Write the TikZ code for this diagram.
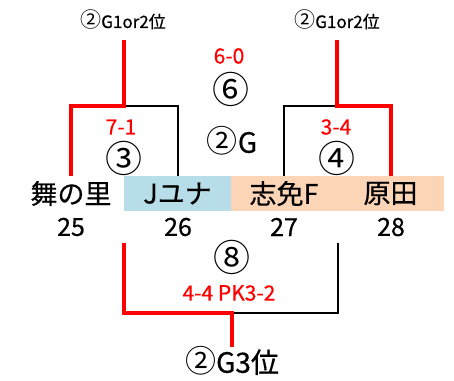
\documentclass[tikz,border=0pt]{standalone}
\usepackage{fontspec}
\setmainfont{Noto Sans CJK JP}[UprightFeatures={FakeBold=0.5}]
\newfontfamily\marufont{Noto Sans CJK JP}
\usepackage{xcolor}
\usetikzlibrary{positioning}

\definecolor{bandblue}{RGB}{182,221,232}
\definecolor{bandorange}{RGB}{251,213,181}

\newcommand\maru[2]{{\marufont\fontsize{#1}{#1}\selectfont #2}}

\begin{document}
\begin{tikzpicture}[x=1pt, y=-1pt,
    team/.style={minimum width=106.5pt, minimum height=35pt, inner sep=0pt, font=\fontsize{27}{27}\selectfont},
    num/.style={font=\fontsize{25}{25}\selectfont},
    match/.style={font=\marufont\fontsize{37}{37}\selectfont},
    label/.style={font=\fontsize{28}{28}\selectfont},
    score/.style={text=red, font=\fontsize{21}{21}\selectfont},
    goal/.style={font=\fontsize{17}{17}\selectfont},
    win/.style={draw=red, line width=4pt},
    lose/.style={draw=black, line width=2pt}]

    \useasboundingbox (0,0) rectangle (454,380);

    % teams
    \node[team] (t25) at (71,193.5) {舞の里};
    \node[team, fill=bandblue] (t26) at (177.5,193.5) {Jユナ};
    \node[team, fill=bandorange] (t27) at (284,193.5) {志免F};
    \node[team, fill=bandorange] (t28) at (390.5,193.5) {原田};

    \node[num] (n25) at (71,227) {25};
    \node[num] (n26) at (178,227) {26};
    \node[num] (n27) at (284,227) {27};
    \node[num] (n28) at (391,227) {28};

    % labels
    \node[goal] (g1l) at (123,20) {\maru{21}{②}G1or2位};
    \node[goal] (g1r) at (337,20) {\maru{21}{②}G1or2位};
    \node[score] (s6) at (229,56) {6-0};
    \node[match] (m6) at (231,89) {⑥};
    \node[label] (grp) at (232,141) {\maru{31}{②}G};
    \node[score] (s3) at (121,127) {7-1};
    \node[match] (m3) at (124,158) {③};
    \node[score] (s4) at (336,127) {3-4};
    \node[match] (m4) at (337,158) {④};
    \node[match] (m8) at (232,257) {⑧};
    \node[score] (s8) at (229,293) {4-4 PK3-2};
    \node[label] (g3) at (232,361) {\maru{31}{②}G3位};

    \coordinate (c3) at (124,106);
    \coordinate (c4) at (337,106);
    \coordinate (u3) at (124,40);
    \coordinate (u4) at (337,40);
    \coordinate (b8l) at (124,243);
    \coordinate (b8r) at (338,243);
    \coordinate (c8) at (232,313);
    \coordinate (d8) at (232,347);

    % brackets
    \draw[lose] (c3) -| (t26.north);
    \draw[win] (t25.north) |- (c3) -- (u3);
    \draw[lose] (c4) -| (t27.north);
    \draw[win] (t28.north) |- (c4) -- (u4);
    \draw[lose] (c8) -| (b8r);
    \draw[win] (b8l) |- (c8) -- (d8);
\end{tikzpicture}
\end{document}
